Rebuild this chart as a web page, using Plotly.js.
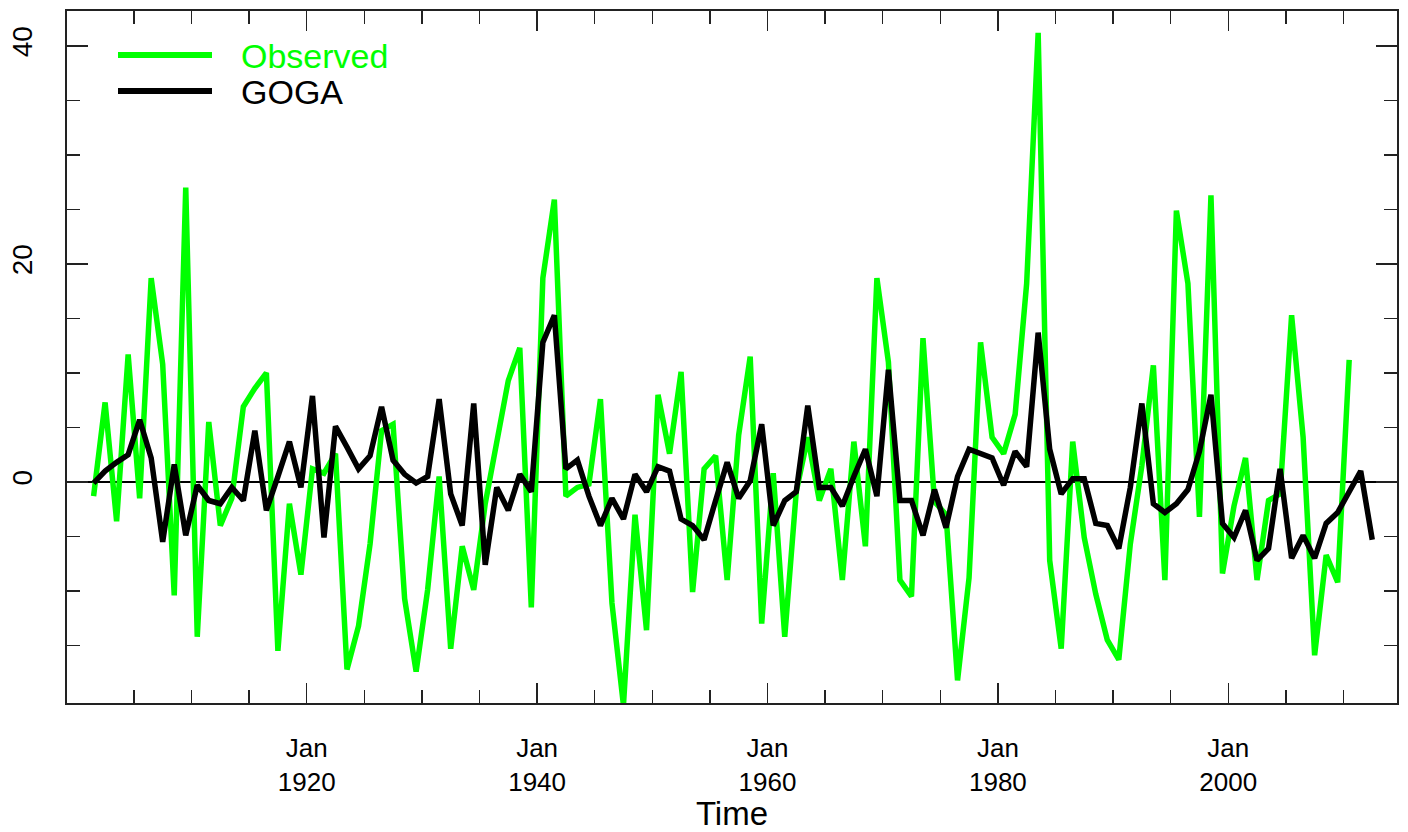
<!DOCTYPE html>
<html>
<head>
<meta charset="utf-8">
<script src="https://cdn.plot.ly/plotly-3.0.1.min.js"></script>
<style>html,body{margin:0;padding:0;background:#fff;}</style>
</head>
<body>
<div id="chart" style="width:1408px;height:832px;"></div>
<script>
// ---- data ----
const years = [1901,1902,1903,1904,1905,1906,1907,1908,1909,1910,
  1911,1912,1913,1914,1915,1916,1917,1918,1919,1920,
  1921,1922,1923,1924,1925,1926,1927,1928,1929,1930,
  1931,1932,1933,1934,1935,1936,1937,1938,1939,1940,
  1941,1942,1943,1944,1945,1946,1947,1948,1949,1950,
  1951,1952,1953,1954,1955,1956,1957,1958,1959,1960,
  1961,1962,1963,1964,1965,1966,1967,1968,1969,1970,
  1971,1972,1973,1974,1975,1976,1977,1978,1979,1980,
  1981,1982,1983,1984,1985,1986,1987,1988,1989,1990,
  1991,1992,1993,1994,1995,1996,1997,1998,1999,2000,
  2001,2002,2003,2004,2005,2006,2007,2008,2009,2010,
  2011,2012];

const observed = [-1.3,7.3,-3.6,11.7,-1.5,18.7,10.8,-10.4,27.0,-14.2,
  5.5,-4.0,-1.5,6.9,8.6,10.0,-15.5,-2.0,-8.5,1.2,
  0.8,2.6,-17.2,-13.2,-5.7,4.7,5.3,-10.7,-17.4,-9.9,
  0.5,-15.3,-5.9,-9.9,-2.0,3.4,9.3,12.3,-11.5,18.7,
  25.9,-1.3,-0.5,-0.2,7.6,-11.1,-20.5,-3.0,-13.6,8.0,
  2.6,10.1,-10.1,1.2,2.4,-9.0,4.3,11.5,-13.0,0.8,
  -14.2,-0.9,4.1,-1.7,1.2,-9.0,3.7,-5.9,18.7,11.0,
  -9.0,-10.5,13.2,-1.8,-3.0,-18.2,-8.8,12.8,4.1,2.6,
  6.2,18.2,41.2,-7.2,-15.3,3.7,-5.1,-10.3,-14.5,-16.3,
  -5.7,1.5,10.7,-9.0,24.9,18.2,-3.2,26.3,-8.4,-2.2,
  2.2,-9.0,-1.7,-1.1,15.3,4.1,-15.9,-6.7,-9.2,11.2,
  null,null];

const goga = [-0.1,1.0,1.8,2.5,5.7,2.2,-5.5,1.6,-4.9,-0.3,
  -1.7,-2.0,-0.5,-1.7,4.7,-2.6,0.5,3.7,-0.5,7.9,
  -5.1,5.1,3.2,1.2,2.4,6.9,2.0,0.7,-0.1,0.5,
  7.6,-1.1,-4.0,7.2,-7.6,-0.5,-2.6,0.7,-0.9,12.8,
  15.3,1.2,2.0,-1.3,-4.0,-1.5,-3.4,0.7,-0.9,1.4,
  1.0,-3.4,-4.0,-5.3,-1.7,1.8,-1.5,0.1,5.3,-4.0,
  -1.7,-0.9,7.0,-0.5,-0.5,-2.2,0.5,3.0,-1.3,10.3,
  -1.7,-1.7,-4.9,-0.7,-4.2,0.5,3.0,2.6,2.2,-0.3,
  2.8,1.4,13.7,3.0,-1.1,0.3,0.3,-3.8,-4.0,-6.1,
  -0.5,7.2,-2.0,-2.8,-2.0,-0.7,2.8,8.0,-3.8,-5.1,
  -2.6,-7.2,-6.1,1.2,-7.0,-4.9,-7.0,-3.8,-2.8,-0.9,
  1.0,-5.3];

const seriesNames = ['Observed', 'GOGA'];
const seriesColors = ['#00FF00', '#000000'];

const majorTickYears = [1920, 1940, 1960, 1980, 2000];
const minorTickYears = [1905,1910,1915,1925,1930,1935,1945,1950,1955,1965,1970,1975,1985,1990,1995,2005,2010];
const yMajorTicks = [0, 20, 40];
const yMinorTicks = [-15,-10,-5,5,10,15,25,30,35];

// ---- build ----
const xDates = years.map(y => y + '-07-01');
const jan = y => y + '-01-01';

const traces = [
  {x: xDates, y: observed, type: 'scatter', mode: 'lines', name: seriesNames[0],
   line: {color: seriesColors[0], width: 5.5}, connectgaps: false, hoverinfo: 'skip'},
  {x: xDates, y: goga, type: 'scatter', mode: 'lines', name: seriesNames[1],
   line: {color: seriesColors[1], width: 5.5}, hoverinfo: 'skip'}
];

// plot area in pixels (used only for the hand-made legend position)
const PL = 67, PR = 1397, PT = 11, PB = 703;
const px = x => (x - PL) / (PR - PL);
const py = y => (PB - y) / (PB - PT);

const legendRows = [55, 91];
const shapes = [];
const annotations = [];
seriesNames.forEach((name, i) => {
  shapes.push({type: 'line', xref: 'paper', yref: 'paper',
    x0: px(118), x1: px(212), y0: py(legendRows[i]), y1: py(legendRows[i]),
    line: {color: seriesColors[i], width: 6}});
  annotations.push({xref: 'paper', yref: 'paper', x: px(239), y: py(legendRows[i] + 1),
    xanchor: 'left', yanchor: 'middle', showarrow: false, text: name,
    font: {size: 34, color: seriesColors[i], family: 'Liberation Sans, Arial, sans-serif'}});
});

const axisCol = '#222';
const layout = {
  width: 1408, height: 832,
  margin: {l: PL, r: 1408 - PR, t: PT, b: 832 - PB, pad: 0},
  paper_bgcolor: '#ffffff', plot_bgcolor: '#ffffff',
  font: {family: 'Liberation Sans, Arial, sans-serif', color: '#000'},
  showlegend: false,
  xaxis: {
    type: 'date', range: ['1899-03-10', '2014-08-25'],
    showgrid: false, zeroline: false,
    showline: true, linecolor: axisCol, linewidth: 2, mirror: 'ticks',
    ticks: 'inside', ticklen: 20, tickwidth: 1.5, tickcolor: axisCol,
    tickmode: 'array', tickvals: majorTickYears.map(jan),
    ticktext: majorTickYears.map(y => 'Jan<br>' + y),
    tickfont: {size: 26}, ticklabelstandoff: 21,
    minor: {ticks: 'inside', ticklen: 13, tickwidth: 1.5, tickcolor: axisCol,
            tickmode: 'array', tickvals: minorTickYears.map(jan), showgrid: false},
    title: {text: 'Time', font: {size: 33}, standoff: 12}
  },
  yaxis: {
    range: [-20.28, 43.21],
    showgrid: false,
    zeroline: true, zerolinecolor: '#000', zerolinewidth: 2,
    showline: true, linecolor: axisCol, linewidth: 2, mirror: 'ticks',
    ticks: 'inside', ticklen: 21, tickwidth: 1.5, tickcolor: axisCol,
    tickmode: 'array', tickvals: yMajorTicks, ticktext: yMajorTicks.map(String),
    tickangle: -90, tickfont: {size: 28}, ticklabelstandoff: 22,
    minor: {ticks: 'inside', ticklen: 13, tickwidth: 1.5, tickcolor: axisCol,
            tickmode: 'array', tickvals: yMinorTicks, showgrid: false}
  },
  shapes: shapes,
  annotations: annotations
};

Plotly.newPlot('chart', traces, layout, {staticPlot: true, displayModeBar: false});
</script>
</body>
</html>
